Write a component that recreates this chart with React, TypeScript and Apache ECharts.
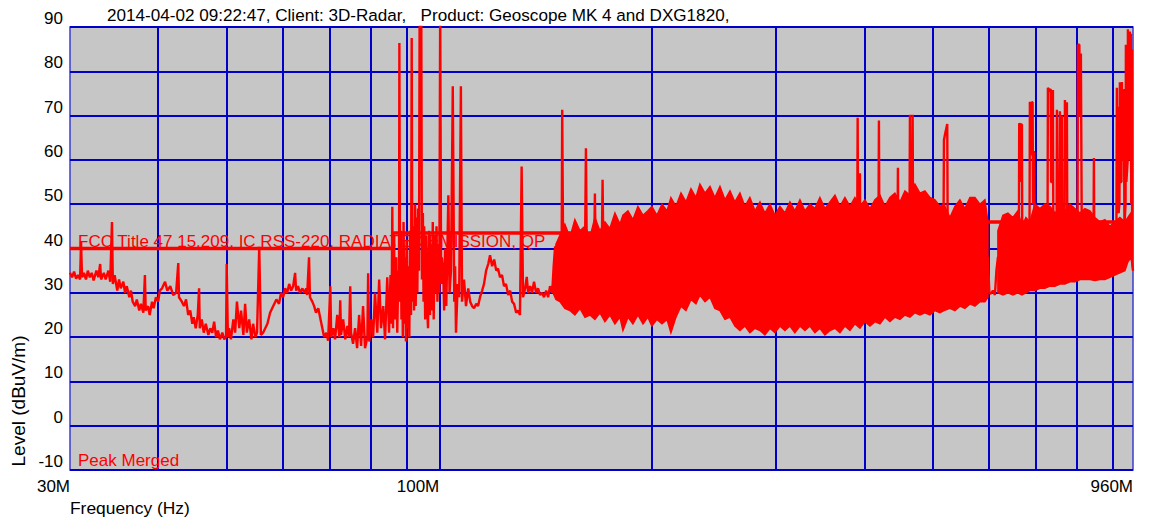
import React, { useEffect, useRef } from "react";
import * as echarts from "echarts";

const titleText = "2014-04-02 09:22:47, Client: 3D-Radar,   Product: Geoscope MK 4 and DXG1820,";
const limitName = "FCC Title 47 15.209, IC RSS-220, RADIATED EMISSION, QP";
const traceName = "Peak Merged";
const xAxisTitle = "Frequency (Hz)";
const yAxisTitle = "Level (dBuV/m)";

const freqMin = 30;
const freqMax = 960;
const levelMin = -10;
const levelMax = 90;
const levelStep = 10;
const gridFreqs = [40, 50, 60, 70, 80, 90, 100, 200, 300, 400, 500, 600, 700, 800, 900];

// FCC limit (MHz, dBuV/m)
const limitFreq = [30, 86, 86, 216, 216, 960];
const limitLevel = [40, 40, 43.5, 43.5, 46, 46];

// Peak trace, 30 - 146 MHz (MHz, dBuV/m)
const traceLowBand: [number, number][] = [
  [30.0,34.5],[30.2,33.5],[30.4,34.8],[30.6,33.2],[30.8,34],[31.0,33],[31.1,41.5],[31.2,33.5],[31.4,34.5],[31.6,33],
  [31.8,35],[32.0,33.5],[32.2,34.5],[32.4,32.8],[32.7,35],[32.9,33.5],[33.1,36.5],[33.2,33],[33.5,34.5],[33.7,33],
  [34.0,35],[34.2,32.5],[34.4,46],[34.5,32],[34.7,34],[35.0,30.5],[35.2,33],[35.4,31],[35.7,32.5],[35.9,30],
  [36.1,31.5],[36.4,29],[36.6,30.5],[36.8,28],[37.1,27],[37.3,28.5],[37.6,26],[37.8,27.5],[38.1,25.5],[38.3,34],
  [38.4,26],[38.7,27],[38.9,25],[39.2,28],[39.4,26.5],[39.7,29],[40.0,28],[40.2,30.5],[40.5,31],[40.9,32.5],
  [41.2,30.5],[41.6,31.5],[42.0,29.5],[42.4,30],[42.7,36.7],[42.8,29],[43.2,28],[43.5,27],[43.8,28.5],[44.1,25],
  [44.4,26],[44.7,23],[44.9,24.5],[45.2,22],[45.5,25],[45.7,31],[45.8,22],[46.1,24],[46.4,21],[46.7,23],
  [47.1,20.5],[47.4,22],[47.7,21],[48.0,23.5],[48.3,20],[48.6,21.5],[48.9,19.5],[49.3,21],[49.6,19.5],[49.9,20],
  [50.0,36.5],[50.2,20],[50.4,22],[50.7,19.5],[51.1,24],[51.4,21],[51.7,28],[52.1,22],[52.4,26],[52.8,20.5],
  [53.1,27.5],[53.4,21],[53.8,24],[54.2,19.5],[54.5,23],[54.9,20],[55.2,21],[55.6,40.4],[55.9,20.5],[56.3,21],
  [56.7,22],[57.1,23],[57.6,25.5],[58.2,27],[58.8,28.5],[59.3,27.5],[59.7,30],[60.1,29],[60.5,31],[60.9,30],
  [61.3,32],[61.7,30.5],[62.1,31.5],[62.5,34.5],[62.7,30.5],[63.1,31.5],[63.5,30],[64.0,31],[64.4,30],[64.8,31],
  [65.0,29.5],[65.4,38],[65.6,29],[66.1,28],[66.5,27],[66.9,25.5],[67.4,26.5],[67.8,24.5],[68.3,22],[68.7,20],
  [69.2,21],[69.6,19.2],[70.1,31.5],[70.3,20],[70.8,22],[71.2,19.5],[71.7,25],[72.2,20],[72.4,28.3],[72.6,20.5],
  [73.1,24],[73.6,19.5],[74.1,22.5],[74.5,20],[74.8,31.5],[75.0,21],[75.5,18.5],[76.0,22],[76.5,17.5],[77.0,25],
  [77.5,18],[78.0,27],[78.5,17.5],[79.1,20],[79.3,34.4],[79.6,19],[80.1,24],[80.6,20],[81.1,30],[81.7,21],
  [82.2,33],[82.7,22],[83.3,27],[83.8,19.5],[84.4,33.5],[84.9,21],[85.3,34],[85.6,23],[85.8,49.4],[86.0,22],
  [86.3,41],[86.6,24],[86.9,38],[87.2,21],[87.5,35],[87.7,30],[87.8,86.4],[88.0,28],[88.2,44],[88.4,24],
  [88.6,40],[88.8,20],[89.0,46],[89.3,23],[89.5,38],[89.7,19],[89.9,42],[90.2,22],[90.4,36],[90.7,20],
  [90.9,44],[91.2,25],[91.4,87.5],[91.6,28],[91.8,45],[92.1,26],[92.4,50],[92.6,27],[92.9,47],[93.1,30],
  [93.3,49],[93.6,35],[93.8,95],[94.3,95],[94.5,33],[94.8,48],[95.0,28],[95.2,45],[95.5,24],[95.8,43],
  [96.1,27],[96.4,22],[96.7,44],[97.0,25],[97.3,41],[97.6,26],[97.9,46],[98.2,24],[98.5,43],[98.8,30],
  [99.1,45],[99.4,28],[99.7,41],[100.0,30],[100.3,95],[100.6,32],[100.8,38],[101.3,35],[101.6,26],[101.9,40],
  [102.3,27],[102.6,37],[103.0,52],[103.4,30],[103.9,35],[104.5,76.6],[105.0,28],[105.3,36],[105.6,21],[106.2,32],
  [106.7,29],[107.3,76.6],[107.7,28],[108.4,33],[109.1,27],[109.9,31],[110.6,28],[111.3,27],[112.0,26.5],[112.8,27.5],
  [113.5,27],[114.2,29],[115.0,30.5],[115.7,32],[116.5,35],[117.3,36.5],[118.0,38.5],[118.8,36],[119.6,37.5],[120.4,35],
  [121.1,35.5],[121.9,33.5],[122.7,34],[123.5,31.5],[124.3,32],[125.2,29.5],[126.0,30.5],[126.8,28],[127.6,27.5],[128.5,25.5],
  [129.3,26],[130.1,25],[130.8,58.5],[131.4,29],[132.3,31],[133.0,33.6],[133.6,30],[134.5,31.5],[135.3,30],[136.2,32.5],
  [137.1,30],[138.0,31],[138.9,29.5],[139.8,30],[140.7,29],[141.7,30.5],[142.6,29],[143.5,31.5],[144.5,30],[145.2,36],
  [145.9,40.5],
];

// Peak trace inside the dense band, 146 - 598 MHz
const traceMidBand: [number, number][] = [
  [146.3,35],[149.0,36],[149.3,71.3],[149.8,36],[155.6,38],[160.8,38],[161.3,62.6],[161.8,37],[165.6,37],[166.1,52.4],
  [166.6,36],[169.8,37],[170.3,55.5],[170.8,37],[200,37],[250,38],[300,36],[350,36],[390.5,40],[391.2,69.5],
  [391.8,40],[393.6,40],[394.1,57],[394.6,40],[418.5,40],[419.3,68.9],[420.0,40],[445.3,40],[446.1,58.2],[446.8,40],
  [463.1,42],[463.9,70.2],[464.8,45],[467.2,45],[468.0,70.2],[468.8,40],[517.5,42],[518.3,64.5],[520.5,66],[523.9,68.1],
  [524.6,45],[527,38],[598.2,38],
];

// Peak trace, 600 - 960 MHz
const traceHighBand: [number, number][] = [
  [601,30],[604,29.8],[608,30.5],[612,29.5],[615,35],[618,38],[640,40],[661.8,42],[662.4,68.3],[663.5,68],
  [664,55],[665.5,55],[666.1,68],[668.3,68],[669,42],[685,42],[685.9,73.1],[687,73],[688,61],[689.5,61],
  [690.4,73],[692,73],[693,50],[694.5,50],[695,62],[696.5,62],[697.2,40],[726.5,42],[727.4,76.3],[730,75.5],
  [734,76],[735,55],[738.5,55],[739.4,75.8],[740.5,42],[748.3,45],[749.1,71.3],[750.5,50],[755.6,45],[756.4,71],
  [757.5,45],[760.6,45],[761.4,70],[762.5,42],[768,42],[768.9,73.5],[770,68],[773,68],[773.9,73],[775,40],
  [801.3,45],[802.1,86],[806,86],[807,70],[809,70],[810,84],[811.5,84],[812.2,46],[844,42],[845.1,60.4],
  [846.2,40],[905,45],[909.5,45],[910.9,76.3],[912,50],[914,72],[916,48],[918.5,50],[919.8,77.5],[921,55],
  [924.5,55],[925.9,77.6],[927,60],[930.5,60],[932,76],[933.5,45],[937,50],[938,86],[939.5,55],[943.5,60],
  [944.2,89.5],[945.5,75],[946.5,75],[947.2,82],[948.5,60],[949.8,70],[950.3,89],[951.5,70],[952.8,70],[953.4,88.5],
  [954.5,50],[955.8,55],[956.5,85],[957.5,37],[960,35],
];

// Dense emission band 1 (lower / upper envelope)
const band1Freq = [
  144.9,146.3,148.2,150.6,153.1,155.6,158.2,160.8,163.4,166.1,168.8,171.6,174.4,177.3,180.2,182.0,185.0,188.0,191.1,194.3,
  197.4,200.0,203.3,206.7,210.1,212.8,216.3,219.9,223.5,227.2,230.9,233.9,237.8,241.7,245.6,249.7,253.8,258.0,262.2,266.5,
  270.9,275.3,279.9,284.5,289.1,293.9,298.7,303.6,308.6,313.7,318.8,324.1,329.4,334.8,340.3,345.9,351.6,357.4,363.3,369.2,
  375.3,381.5,387.7,394.1,400.6,407.2,413.9,420.7,427.6,434.6,441.7,449.0,456.4,463.9,471.5,479.3,487.1,495.1,503.3,511.5,
  518.3,528.5,537.2,546.0,555.0,564.1,573.4,582.8,592.4,598.2,
];
const band1Low = [
  30,28.5,28,26.5,26,25,26.5,24.5,25,24,25.5,23.5,25,23,24.5,21.5,24.5,23,25,23,
  24.5,22.5,24,23,24,21,24.5,27,26,28.5,27.5,29.5,28,29,26.5,26,24,24.5,22.5,21.5,
  22.5,21,22,21.5,20.5,22,21,22.5,21.5,22.5,21,22.5,21.5,22.5,21,22,20.5,21.5,22,21,
  22.5,21.5,23,22,23.5,22.5,23.5,23,24.5,23.5,24.5,24,25,24.5,25.5,25,25.5,25,26,25.5,
  26,26.5,26,27,26.5,27.5,27,28,28,29,
];
const band1High = [
  32,41,43,45.5,42.5,46.5,44,45,42.5,47,44,46,44.5,48,45.5,47.5,48.5,46.5,49.5,47.5,
  48.5,49.5,47.5,50,48.5,51.5,49.5,52.5,50.5,53.5,51.5,54.5,52.5,54,51.5,54,51,53,50.5,52.5,
  49.5,51.5,48.5,50.5,48,50,47.5,49.5,48,50.5,48.5,51,48.5,50,49,51.5,49,50.5,52,49.5,
  51.5,49.5,51.5,49.5,51,49,51,52,49.5,51.5,52.5,50.5,53,52,54.5,52.5,53,51.5,51,49.5,
  50,47,49.5,51,49,51.5,51.5,50,51,46,
];

// Dense emission band 2
const band2Freq = [
  618.0,628.2,638.5,649.0,659.6,668.3,677.1,685.9,697.2,708.7,720.3,732.2,744.2,756.4,768.9,781.5,794.3,807.4,820.7,834.1,
  847.8,861.8,875.9,890.3,905.0,919.8,935.0,944.2,953.4,959.7,
];
const band2Low = [
  30,29.5,30,29.5,30,29.5,30,30.5,30.5,31,31,31.5,31.5,32,32,32.5,32.5,33,33,33,
  32.8,33,33,33.5,34,34.5,35,37,38,35,
];
const band2High = [
  44,47.5,48,47,48.5,45,47,46,50,49,50,49.5,48,49,48.5,50,49,48,49,48.5,
  47,46,46.5,45,46,47,46,47,48,47,
];

const RED = "#ff0000";
const BLUE = "#0000c8";
const FONT = "'Liberation Sans', Arial, sans-serif";

const zip = (a: number[], b: number[]) => a.map((v, i) => [v, b[i]]);

function bandSeries(f: number[], lo: number[], hi: number[]) {
  return {
    type: "custom",
    coordinateSystem: "cartesian2d",
    data: [[f[0], lo[0]]],
    clip: true,
    silent: true,
    z: 6,
    renderItem: (_params: any, api: any) => {
      const pts: number[][] = [];
      for (let i = 0; i < f.length; i++) pts.push(api.coord([f[i], hi[i]]));
      for (let i = f.length - 1; i >= 0; i--) pts.push(api.coord([f[i], lo[i]]));
      return {
        type: "polygon",
        shape: { points: pts },
        style: { fill: RED, stroke: RED, lineWidth: 1.5 },
      };
    },
  };
}

export default function App() {
  const ref = useRef<HTMLDivElement>(null);
  useEffect(() => {
    if (!ref.current) return;
    const chart = echarts.init(ref.current, null, { renderer: "svg" });
    const option: any = {
      animation: false,
      textStyle: { fontFamily: FONT },
      grid: {
        left: 70,
        right: 19,
        top: 27,
        bottom: 52,
        show: true,
        backgroundColor: "#c6c6c6",
        borderColor: "#3c3cd2",
        borderWidth: 1.5,
      },
      xAxis: {
        type: "log",
        logBase: 10,
        min: freqMin,
        max: freqMax,
        axisLine: { show: false },
        axisTick: { show: false },
        splitLine: { show: false },
        axisLabel: {
          color: "#000",
          fontSize: 17,
          fontFamily: FONT,
          align: "right",
          margin: 8,
          formatter: (v: number) => Math.round(v) + "M",
        },
      },
      yAxis: {
        type: "value",
        min: levelMin,
        max: levelMax,
        interval: levelStep,
        axisLine: { show: false },
        axisTick: { show: false },
        splitLine: { show: true, lineStyle: { color: BLUE, width: 2 } },
        axisLabel: {
          color: "#000",
          fontSize: 17,
          fontFamily: FONT,
          verticalAlign: "bottom",
          margin: 7,
        },
      },
      graphic: [
        {
          type: "text",
          x: 107,
          y: 15,
          z: 3,
          style: { text: titleText, fill: "#000", font: `17.1px ${FONT}`, textVerticalAlign: "middle", verticalAlign: "middle" },
        },
        {
          type: "text",
          x: 78,
          y: 241,
          z: 3,
          style: { text: limitName, fill: RED, font: `17px ${FONT}`, textVerticalAlign: "middle", verticalAlign: "middle" },
        },
        {
          type: "text",
          x: 78,
          y: 460,
          z: 3,
          style: { text: traceName, fill: RED, font: `17px ${FONT}`, textVerticalAlign: "middle", verticalAlign: "middle" },
        },
        {
          type: "text",
          x: 70,
          y: 508,
          z: 3,
          style: { text: xAxisTitle, fill: "#000", font: `17.4px ${FONT}`, textVerticalAlign: "middle", verticalAlign: "middle" },
        },
        {
          type: "text",
          x: 18,
          y: 401,
          rotation: Math.PI / 2,
          z: 3,
          style: {
            text: yAxisTitle,
            fill: "#000",
            font: `19px ${FONT}`,
            textAlign: "center",
            align: "center",
            textVerticalAlign: "middle",
            verticalAlign: "middle",
          },
        },
      ],
      series: [
        {
          type: "line",
          name: "limit",
          data: zip(limitFreq, limitLevel),
          symbol: "none",
          lineStyle: { color: RED, width: 3.5 },
          z: 6,
          silent: true,
          markLine: {
            silent: true,
            z: 1,
            symbol: "none",
            label: { show: false },
            lineStyle: { color: BLUE, width: 2, type: "solid" },
            data: gridFreqs.map((f) => ({ xAxis: f })),
          },
        },
        bandSeries(band1Freq, band1Low, band1High),
        bandSeries(band2Freq, band2Low, band2High),
        {
          type: "line",
          name: traceName,
          data: [...traceLowBand, ...traceMidBand, ...traceHighBand],
          symbol: "none",
          lineStyle: { color: RED, width: 2.4 },
          z: 7,
          silent: true,
        },
      ],
    };
    chart.setOption(option);
    return () => chart.dispose();
  }, []);
  return <div ref={ref} style={{ position: "absolute", left: 0, top: 0, width: 1152, height: 522 }} />;
}
